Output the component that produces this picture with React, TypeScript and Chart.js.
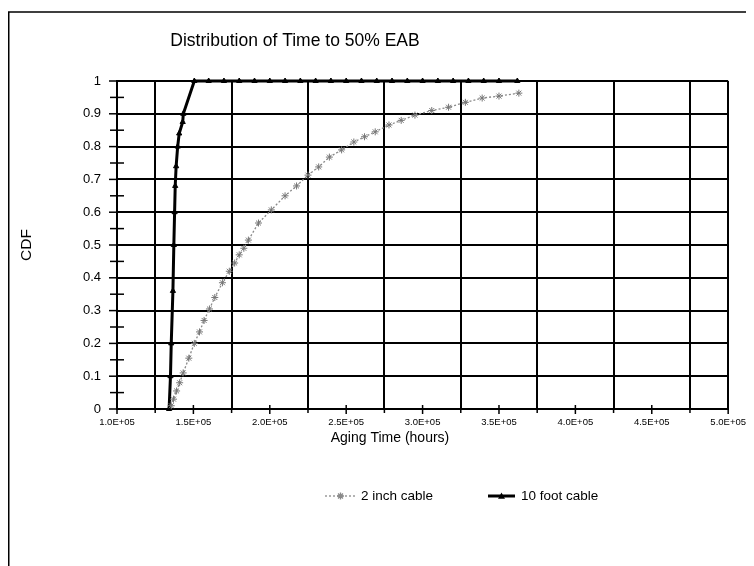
import React, { useEffect, useRef } from 'react';
import { Chart, registerables } from 'chart.js';

Chart.register(...registerables);

const FONT = '"Liberation Sans", Arial, sans-serif';

const chartTitle = 'Distribution of Time to 50% EAB';
const xAxisTitle = 'Aging Time (hours)';
const yAxisTitle = 'CDF';
const seriesNames = ['2 inch cable', '10 foot cable'];

const xTickLabels = ['1.0E+05', '1.5E+05', '2.0E+05', '2.5E+05', '3.0E+05', '3.5E+05', '4.0E+05', '4.5E+05', '5.0E+05'];
const yTickLabels = ['0', '0.1', '0.2', '0.3', '0.4', '0.5', '0.6', '0.7', '0.8', '0.9', '1'];

const inchX = [135500, 137000, 139000, 141000, 143300, 147000, 150600, 154000, 157000, 160500, 164000, 169000, 173500, 177000, 180000, 183000, 186000, 192600, 201000, 210000, 217500, 225000, 232000, 239000, 247000, 255000, 262000, 269000, 278000, 286000, 295000, 306000, 317000, 328000, 339000, 350000, 363000];
const inchY = [0.01, 0.03, 0.055, 0.08, 0.11, 0.155, 0.2, 0.235, 0.27, 0.305, 0.34, 0.385, 0.42, 0.445, 0.47, 0.49, 0.515, 0.567, 0.607, 0.65, 0.68, 0.713, 0.738, 0.768, 0.79, 0.814, 0.83, 0.845, 0.866, 0.88, 0.896, 0.91, 0.92, 0.935, 0.948, 0.954, 0.963];

const footX = [134100, 135000, 135500, 136600, 137200, 137700, 138100, 138700, 139700, 140700, 143000, 143400, 150600, 160000, 170000, 180000, 190000, 200000, 210000, 220000, 230000, 240000, 250000, 260000, 270000, 280000, 290000, 300000, 310000, 320000, 330000, 340000, 350000, 362000];
const footY = [0, 0.1, 0.2, 0.36, 0.5, 0.6, 0.68, 0.74, 0.8, 0.84, 0.875, 0.9, 1, 1, 1, 1, 1, 1, 1, 1, 1, 1, 1, 1, 1, 1, 1, 1, 1, 1, 1, 1, 1, 1];

const GREY = '#8a8a8a';

function drawStar(ctx: CanvasRenderingContext2D, cx: number, cy: number, r: number) {
  ctx.beginPath();
  ctx.moveTo(cx - r, cy); ctx.lineTo(cx + r, cy);
  ctx.moveTo(cx, cy - r); ctx.lineTo(cx, cy + r);
  const d = r * 0.707;
  ctx.moveTo(cx - d, cy - d); ctx.lineTo(cx + d, cy + d);
  ctx.moveTo(cx - d, cy + d); ctx.lineTo(cx + d, cy - d);
  ctx.stroke();
}

function drawTriangle(ctx: CanvasRenderingContext2D, cx: number, cy: number, r: number) {
  ctx.beginPath();
  ctx.moveTo(cx, cy - r);
  ctx.lineTo(cx + r, cy + r * 0.8);
  ctx.lineTo(cx - r, cy + r * 0.8);
  ctx.closePath();
  ctx.fill();
}

const decorPlugin = {
  id: 'decor',
  afterDraw(chart: any) {
    const { ctx, chartArea, scales } = chart;
    const { left, bottom } = chartArea;
    const xs = scales.x;
    const ys = scales.y;
    ctx.save();
    ctx.strokeStyle = '#000';
    ctx.lineWidth = 1.5;
    // y ticks
    ys.ticks.forEach((t: any, i: number) => {
      const py = ys.getPixelForValue(t.value);
      ctx.beginPath();
      if (i % 2 === 0) {
        ctx.moveTo(left - 8, py); ctx.lineTo(left, py);
      } else {
        ctx.moveTo(left - 7, py); ctx.lineTo(left + 7, py);
      }
      ctx.stroke();
    });
    // x ticks
    xs.ticks.forEach((t: any, i: number) => {
      const px = xs.getPixelForValue(t.value);
      ctx.beginPath();
      if (i % 2 === 0) {
        ctx.moveTo(px, bottom - 4); ctx.lineTo(px, bottom + 5);
      } else {
        ctx.moveTo(px, bottom); ctx.lineTo(px, bottom + 4);
      }
      ctx.stroke();
    });
    // frame
    ctx.beginPath();
    ctx.moveTo(0.75, 4); ctx.lineTo(0.75, chart.height);
    ctx.moveTo(0, 4); ctx.lineTo(chart.width, 4);
    ctx.stroke();

    ctx.fillStyle = '#000';
    ctx.textAlign = 'center';
    ctx.textBaseline = 'middle';
    ctx.font = `17.5px ${FONT}`;
    ctx.fillText(chartTitle, 287, 33);
    ctx.font = `14px ${FONT}`;
    ctx.fillText(xAxisTitle, 382, 430);
    ctx.save();
    ctx.translate(19, 237);
    ctx.rotate(-Math.PI / 2);
    ctx.font = `15.5px ${FONT}`;
    ctx.fillText(yAxisTitle, 0, 0);
    ctx.restore();

    // legend
    const ly = 488;
    ctx.font = `13.5px ${FONT}`;
    ctx.textAlign = 'left';
    ctx.strokeStyle = GREY;
    ctx.lineWidth = 1.3;
    ctx.setLineDash([2, 2]);
    ctx.beginPath(); ctx.moveTo(317, ly); ctx.lineTo(348, ly); ctx.stroke();
    ctx.setLineDash([]);
    drawStar(ctx, 332.5, ly, 3.5);
    ctx.fillStyle = '#000';
    ctx.fillText(seriesNames[0], 353, ly);
    ctx.strokeStyle = '#000';
    ctx.lineWidth = 3;
    ctx.beginPath(); ctx.moveTo(480, ly); ctx.lineTo(507, ly); ctx.stroke();
    drawTriangle(ctx, 493.5, ly, 3.5);
    ctx.fillText(seriesNames[1], 513, ly);
    ctx.restore();
  },
};

export default function App() {
  const ref = useRef<HTMLCanvasElement | null>(null);
  useEffect(() => {
    if (!ref.current) return;
    const chart = new Chart(ref.current, {
      type: 'scatter',
      data: {
        datasets: [
          {
            label: seriesNames[0],
            data: inchX.map((x, i) => ({ x, y: inchY[i] })),
            showLine: true,
            borderColor: GREY,
            borderWidth: 1.3,
            borderDash: [2, 2],
            pointStyle: 'star',
            pointRadius: 3.5,
            pointBorderColor: '#777',
            pointBorderWidth: 1,
            pointBackgroundColor: GREY,
            clip: false,
          },
          {
            label: seriesNames[1],
            data: footX.map((x, i) => ({ x, y: footY[i] })),
            showLine: true,
            borderColor: '#000',
            borderWidth: 3,
            pointStyle: 'triangle',
            pointRadius: 3,
            pointBorderWidth: 1,
            pointBorderColor: '#000',
            pointBackgroundColor: '#000',
            clip: false,
          },
        ],
      },
      options: {
        animation: false,
        responsive: false,
        events: [],
        layout: { padding: { left: 0, top: 73, right: 15, bottom: 127 } },
        plugins: { legend: { display: false }, title: { display: false }, tooltip: { enabled: false } },
        scales: {
          x: {
            type: 'linear',
            min: 100000,
            max: 500000,
            afterFit: (s: any) => { s.height = 30; },
            ticks: {
              stepSize: 25000,
              autoSkip: false,
              maxRotation: 0,
              padding: 8,
              color: '#000',
              font: { family: FONT, size: 9.5 },
              callback: (_v: any, i: number) => (i % 2 === 0 ? xTickLabels[i / 2] : ''),
            },
            grid: {
              drawTicks: false,
              lineWidth: 2,
              color: (c: any) => (c.index % 2 === 1 || c.index === 16 ? '#000' : 'rgba(0,0,0,0)'),
            },
            border: { display: true, color: '#000', width: 2 },
          },
          y: {
            min: 0,
            max: 1,
            afterFit: (s: any) => { s.width = 109; },
            ticks: {
              stepSize: 0.05,
              autoSkip: false,
              padding: 16,
              color: '#000',
              font: { family: FONT, size: 13 },
              callback: (_v: any, i: number) => (i % 2 === 0 ? yTickLabels[i / 2] : ''),
            },
            grid: {
              drawTicks: false,
              lineWidth: 2,
              color: (c: any) => (c.index % 2 === 0 ? '#000' : 'rgba(0,0,0,0)'),
            },
            border: { display: true, color: '#000', width: 2 },
          },
        },
      },
      plugins: [decorPlugin],
    });
    return () => chart.destroy();
  }, []);
  return (
    <div style={{ position: 'relative', width: 746, height: 558 }}>
      <canvas ref={ref} width={746} height={558} style={{ display: 'block' }} />
    </div>
  );
}
